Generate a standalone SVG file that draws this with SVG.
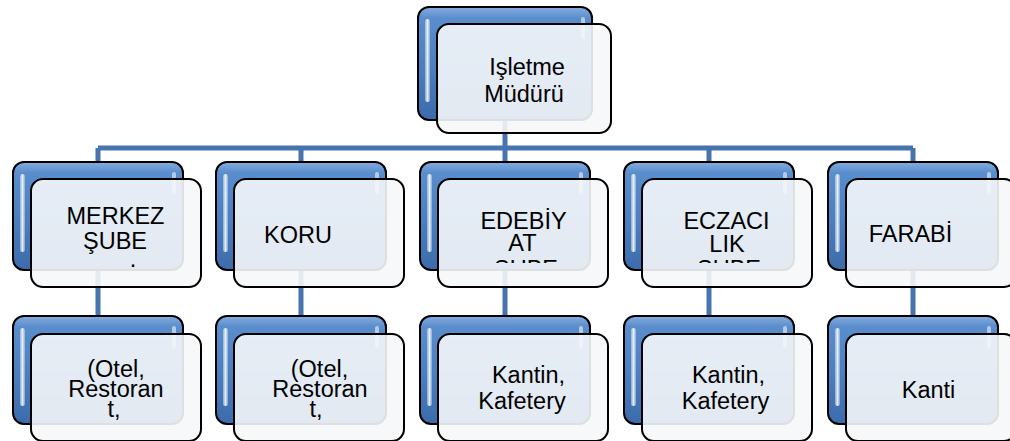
<svg xmlns="http://www.w3.org/2000/svg" width="1010" height="441" viewBox="0 0 1010 441">
<defs>
<linearGradient id="gB" x1="0" y1="0" x2="0" y2="1">
<stop offset="0" stop-color="#86ade0"/>
<stop offset="0.1" stop-color="#5a8dcc"/>
<stop offset="0.55" stop-color="#4a7ebf"/>
<stop offset="1" stop-color="#3c6baa"/>
</linearGradient>
<linearGradient id="gH" x1="0" y1="0" x2="1" y2="0">
<stop offset="0" stop-color="#ffffff" stop-opacity="0.35"/>
<stop offset="0.5" stop-color="#ffffff" stop-opacity="0.85"/>
<stop offset="1" stop-color="#ffffff" stop-opacity="0.3"/>
</linearGradient>
<clipPath id="clip2"><rect x="0" y="0" width="1010" height="263"/></clipPath>
</defs>
<style>
.back{fill:url(#gB);stroke:#000;stroke-width:2}
.hl{fill:url(#gH)}
.hr{fill:#ffffff;fill-opacity:0.55}
.front{fill:#f5f7fa;fill-opacity:0.9;stroke:#000;stroke-width:2}
.t{font-family:"Liberation Sans",Arial,sans-serif;font-size:23.5px;fill:#000;text-anchor:middle}
.conn{stroke:#4774ae;stroke-width:5;fill:none}
</style>
<rect width="1010" height="441" fill="#ffffff"/>
<g id="connectors">
<path class="conn" d="M505 120V148M98 148H913M98 148V162M301 148V162M505 148V162M709 148V162M913 148V162"/>
<path class="conn" d="M98 270V316M301 270V316M505 270V316M709 270V316M913 270V316"/>
</g>
<g id="n-mudur">
<rect class="back" x="418" y="7" width="174" height="113" rx="11"/>
<rect class="hl" x="425" y="19" width="5" height="83" rx="2.5"/>
<rect class="hr" x="581" y="17" width="4" height="22" rx="2"/>
<rect class="front" x="437" y="24" width="174" height="109" rx="12"/>
<text class="t"><tspan x="527" y="75">Işletme</tspan><tspan x="524" y="102">Müdürü</tspan></text>
</g>
<g id="n-merkez">
<rect class="back" x="13" y="162" width="170" height="108" rx="11"/>
<rect class="hl" x="20" y="174" width="5" height="78" rx="2.5"/>
<rect class="hr" x="172" y="172" width="4" height="22" rx="2"/>
<rect class="front" x="31" y="179" width="170" height="108" rx="12"/>
<text class="t"><tspan x="115.5" y="224">MERKEZ</tspan><tspan x="115" y="249">ŞUBE</tspan><tspan x="133" y="267">.</tspan></text>
</g>
<g id="n-koru">
<rect class="back" x="216" y="162" width="170" height="108" rx="11"/>
<rect class="hl" x="223" y="174" width="5" height="78" rx="2.5"/>
<rect class="hr" x="375" y="172" width="4" height="22" rx="2"/>
<rect class="front" x="234" y="179" width="170" height="108" rx="12"/>
<text class="t" x="298" y="243">KORU</text>
</g>
<g id="n-edebiyat">
<rect class="back" x="420" y="162" width="170" height="108" rx="11"/>
<rect class="hl" x="427" y="174" width="5" height="78" rx="2.5"/>
<rect class="hr" x="579" y="172" width="4" height="22" rx="2"/>
<rect class="front" x="438" y="179" width="170" height="108" rx="12"/>
<text class="t" clip-path="url(#clip2)"><tspan x="523.5" y="229">EDEBİY</tspan><tspan x="522.5" y="251">AT</tspan><tspan x="526" y="277">ŞUBE</tspan></text>
</g>
<g id="n-eczacilik">
<rect class="back" x="624" y="162" width="170" height="108" rx="11"/>
<rect class="hl" x="631" y="174" width="5" height="78" rx="2.5"/>
<rect class="hr" x="783" y="172" width="4" height="22" rx="2"/>
<rect class="front" x="642" y="179" width="170" height="108" rx="12"/>
<text class="t" clip-path="url(#clip2)"><tspan x="726.5" y="229">ECZACI</tspan><tspan x="727" y="252">LIK</tspan><tspan x="729" y="277">ŞUBE</tspan></text>
</g>
<g id="n-farabi">
<rect class="back" x="828" y="162" width="170" height="108" rx="11"/>
<rect class="hl" x="835" y="174" width="5" height="78" rx="2.5"/>
<rect class="hr" x="987" y="172" width="4" height="22" rx="2"/>
<rect class="front" x="846" y="179" width="170" height="108" rx="12"/>
<text class="t" x="910.5" y="242">FARABİ</text>
</g>
<g id="n-merkez-alt">
<rect class="back" x="13" y="316" width="170" height="108" rx="11"/>
<rect class="hl" x="20" y="328" width="5" height="78" rx="2.5"/>
<rect class="hr" x="172" y="326" width="4" height="22" rx="2"/>
<rect class="front" x="31" y="334" width="170" height="107" rx="12"/>
<text class="t"><tspan x="116" y="377">(Otel,</tspan><tspan x="116" y="397">Restoran</tspan><tspan x="114" y="417">t,</tspan></text>
</g>
<g id="n-koru-alt">
<rect class="back" x="216" y="316" width="170" height="108" rx="11"/>
<rect class="hl" x="223" y="328" width="5" height="78" rx="2.5"/>
<rect class="hr" x="375" y="326" width="4" height="22" rx="2"/>
<rect class="front" x="234" y="334" width="170" height="107" rx="12"/>
<text class="t"><tspan x="319.5" y="377">(Otel,</tspan><tspan x="320" y="397">Restoran</tspan><tspan x="316" y="417">t,</tspan></text>
</g>
<g id="n-edebiyat-alt">
<rect class="back" x="420" y="316" width="170" height="108" rx="11"/>
<rect class="hl" x="427" y="328" width="5" height="78" rx="2.5"/>
<rect class="hr" x="579" y="326" width="4" height="22" rx="2"/>
<rect class="front" x="438" y="334" width="170" height="107" rx="12"/>
<text class="t"><tspan x="528.5" y="383">Kantin,</tspan><tspan x="522" y="409">Kafetery</tspan></text>
</g>
<g id="n-eczacilik-alt">
<rect class="back" x="624" y="316" width="170" height="108" rx="11"/>
<rect class="hl" x="631" y="328" width="5" height="78" rx="2.5"/>
<rect class="hr" x="783" y="326" width="4" height="22" rx="2"/>
<rect class="front" x="642" y="334" width="170" height="107" rx="12"/>
<text class="t"><tspan x="728.5" y="383">Kantin,</tspan><tspan x="725.5" y="409">Kafetery</tspan></text>
</g>
<g id="n-farabi-alt">
<rect class="back" x="828" y="316" width="170" height="108" rx="11"/>
<rect class="hl" x="835" y="328" width="5" height="78" rx="2.5"/>
<rect class="hr" x="987" y="326" width="4" height="22" rx="2"/>
<rect class="front" x="846" y="334" width="170" height="107" rx="12"/>
<text class="t" x="928.5" y="398">Kanti</text>
</g>
</svg>
